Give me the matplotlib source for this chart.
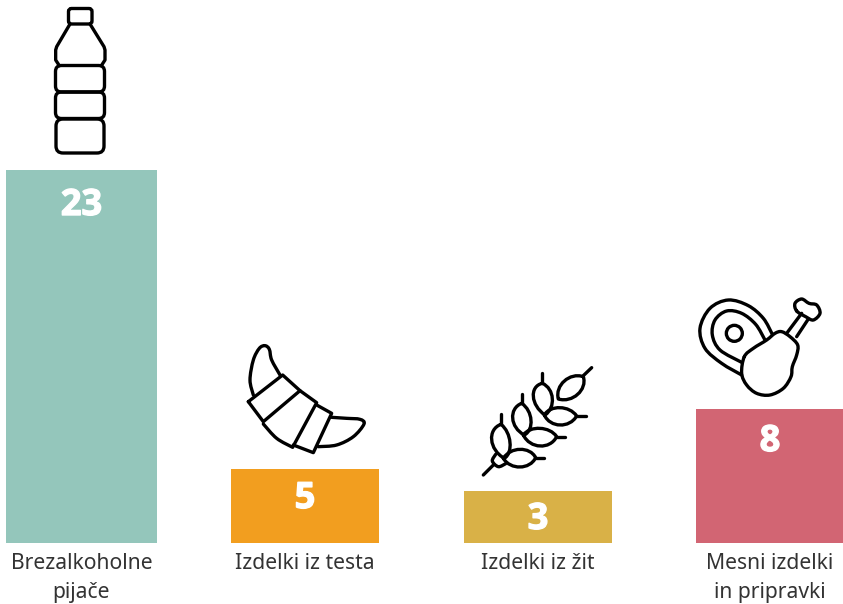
import matplotlib
matplotlib.use('Agg')
import matplotlib.pyplot as plt
import matplotlib.patheffects as pe
import numpy as np
from matplotlib.patches import Circle, FancyBboxPatch, PathPatch
from matplotlib.path import Path

# printed numbers and the bar lengths as drawn (the bars are not quite to scale)
categories = ['Brezalkoholne\npijače', 'Izdelki iz testa', 'Izdelki iz žit', 'Mesni izdelki\nin pripravki']
values = [23, 5, 3, 8]
bar_lengths = [23, 4.56, 3.21, 8.26]

colors = ['#94c6bb', '#f29e1f', '#d9b147', '#d26573']
centres = [81.5, 305, 538, 770]
widths = [151, 148, 148, 148]
label_drop = [36, 30, 29, 33]

W, H = 843, 604
BASE = 543
PX_PER_UNIT = 373 / 23
LW = 2.4

plt.rcParams['font.family'] = ['Noto Sans', 'DejaVu Sans']

fig = plt.figure(figsize=(W / 100, H / 100), dpi=100)
ax = fig.add_axes([0, (H - BASE) / H, 1, BASE / H])
ax.bar(centres, bar_lengths, width=widths, color=colors)
ax.set_xlim(0, W)
ax.set_ylim(0, BASE / PX_PER_UNIT)
for s in ax.spines.values():
    s.set_visible(False)
ax.set_yticks([])
ax.set_xticks(centres)
ax.set_xticklabels(categories, fontsize=15.2, color='#333333', linespacing=1.52)
ax.tick_params(axis='x', length=0, pad=7)

for x, v, h, d in zip(centres, values, bar_lengths, label_drop):
    ax.annotate(str(v), (x, h), xytext=(0, -d * 0.72), textcoords='offset points',
                ha='center', va='center', color='white', fontsize=26,
                family=['Open Sans', 'DejaVu Sans'], fontweight='bold',
                path_effects=[pe.withStroke(linewidth=1.0, foreground='white')])

# icons live on a pixel-coordinate overlay
ic = fig.add_axes([0, 0, 1, 1])
ic.set_xlim(0, W)
ic.set_ylim(H, 0)
ic.axis('off')
ic.patch.set_alpha(0)


def to_px(pts, off):
    return [(off[0] + x / 3, off[1] + y / 3) for x, y in pts]


def stroke(verts, codes):
    ic.add_patch(PathPatch(Path(verts, codes), fc='none', ec='black', lw=LW,
                           capstyle='round', joinstyle='round'))


def smooth(pts, off, closed=False):
    """Catmull-Rom through the points, as a bezier path"""
    p = np.array(to_px(pts, off), float)
    n = len(p)
    verts = [p[0]]
    codes = [Path.MOVETO]
    last = n if closed else n - 1
    for i in range(last):
        p0 = p[(i - 1) % n] if closed or i > 0 else p[i]
        p1 = p[i]
        p2 = p[(i + 1) % n]
        p3 = p[(i + 2) % n] if closed or i + 2 < n else p2
        verts += [p1 + (p2 - p0) / 6, p2 - (p3 - p1) / 6, p2]
        codes += [Path.CURVE4] * 3
    stroke(verts, codes)


def leaf(tip_a, side_a, tip_b, side_b, off):
    """pointed leaf: two rounded arcs between the tips, through the side points"""
    a, s1, b, s2 = np.array(to_px([tip_a, side_a, tip_b, side_b], off), float)
    mid = (a + b) / 2
    along = (b - a) * 0.2
    n1 = (s1 - mid) * 4 / 3
    n2 = (s2 - mid) * 4 / 3
    stroke([a, a + n1 + along, b + n1 - along, b, b + n2 - along, a + n2 + along, a],
           [Path.MOVETO] + [Path.CURVE4] * 6)


def poly(pts, off):
    xy = np.array(to_px(pts, off))
    ic.plot(xy[:, 0], xy[:, 1], color='black', lw=LW, solid_capstyle='round', solid_joinstyle='round')


def rbox(x0, y0, x1, y1, r):
    ic.add_patch(FancyBboxPatch((x0 + r, y0 + r), x1 - x0 - 2 * r, y1 - y0 - 2 * r,
                                boxstyle=f'round,pad={r}', fc='none', ec='black', lw=LW))


# bottle
b = (0, 0)
rbox(68.5, 8.5, 92, 24, 3)
poly([(210, 72), (170, 140), (167, 150), (167, 180), (178, 197)], b)
poly([(270, 72), (312, 140), (315, 150), (315, 180), (304, 197)], b)
rbox(55.5, 65.5, 104.5, 92, 6)
rbox(55.5, 92, 104.5, 118.5, 6)
rbox(56, 119, 104, 153, 7)

# croissant
c = (230, 330)
smooth([(70, 195), (60, 150), (70, 90), (88, 55), (105, 47), (118, 58), (125, 90), (150, 135)], c)
poly([(55, 215), (158, 135), (210, 182), (100, 275), (55, 215)], c)
smooth([(100, 282), (140, 325), (188, 352)], c)
poly([(210, 182), (260, 218), (190, 348)], c)
poly([(260, 225), (305, 250), (250, 368), (190, 345)], c)
smooth([(305, 262), (350, 265), (390, 268), (402, 282), (370, 320), (320, 345), (265, 350)], c)

# wheat
w = (465, 355)
poly([(55, 360), (85, 330)], w)
poly([(355, 62), (380, 38)], w)
leaf((355, 65), (298, 78), (280, 132), (338, 118), w)
for top, left, bot, right, stalk in [((232, 85), (205, 125), (240, 180), (262, 130), 55),
                                     ((170, 145), (143, 190), (178, 240), (198, 195), 118),
                                     ((108, 208), (80, 255), (118, 310), (135, 262), 178)]:
    leaf(top, left, bot, right, w)
    poly([(top[0], stalk), top], w)
for start, up, tip, down, end in [((238, 180), (285, 158), (335, 183), (285, 210), 362),
                                  ((175, 240), (225, 220), (275, 245), (225, 273), 300),
                                  ((115, 310), (165, 283), (212, 308), (165, 336), 238)]:
    leaf(start, up, tip, down, w)
    poly([tip, (end, tip[1])], w)
smooth([(92, 298), (82, 318), (100, 335), (122, 326)], w)

# meat
m = (685, 285)
smooth([(262, 148), (235, 100), (190, 62), (130, 45), (75, 70), (45, 130), (60, 190), (110, 235), (170, 270)], m)
smooth([(240, 165), (212, 118), (170, 85), (125, 78), (90, 105), (82, 150), (105, 195), (170, 232)], m)
ic.add_patch(Circle((685 + 148 / 3, 285 + 145 / 3), 8, fc='none', ec='black', lw=LW))
smooth([(178, 215), (205, 190), (245, 165), (270, 145), (290, 140), (315, 155), (338, 180), (335, 210),
        (322, 245), (318, 275), (295, 310), (255, 330), (215, 325), (185, 300), (170, 265)], m, closed=True)
poly([(305, 145), (350, 85)], m)
poly([(335, 155), (368, 105)], m)
smooth([(335, 78), (330, 55), (350, 42), (372, 55), (395, 60), (405, 85), (385, 105), (362, 95)], m, closed=True)

fig.savefig('out.png', dpi=100)
